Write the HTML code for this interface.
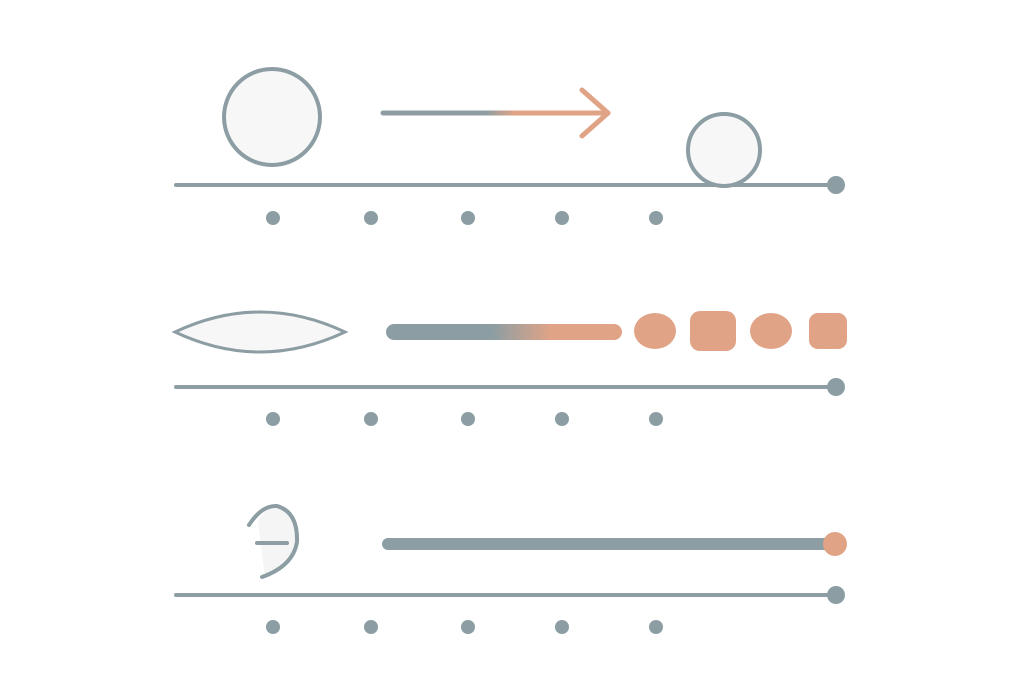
<!DOCTYPE html>
<html><head><meta charset="utf-8"><style>html,body{margin:0;padding:0;background:#fff}svg{display:block}</style></head>
<body>
<svg width="1024" height="683" viewBox="0 0 1024 683" xmlns="http://www.w3.org/2000/svg">
<defs>
<linearGradient id="g1" gradientUnits="userSpaceOnUse" x1="383" y1="0" x2="610" y2="0">
<stop offset="0" stop-color="#8c9ea3"/><stop offset="0.45" stop-color="#8c9ea3"/><stop offset="0.58" stop-color="#e0a386"/><stop offset="1" stop-color="#e0a386"/></linearGradient>
<linearGradient id="g2" gradientUnits="userSpaceOnUse" x1="386" y1="0" x2="622" y2="0">
<stop offset="0" stop-color="#8c9ea3"/><stop offset="0.45" stop-color="#8c9ea3"/><stop offset="0.7" stop-color="#e0a386"/><stop offset="1" stop-color="#e0a386"/></linearGradient>
</defs>
<g fill="none" stroke="#8c9ea3" stroke-linecap="round">
<!-- row 1 -->
<circle cx="272" cy="117" r="48" fill="#f7f7f7" stroke-width="4"/>
<line x1="176" y1="185" x2="836" y2="185" stroke-width="4"/>
<circle cx="724" cy="150" r="36" fill="#f7f7f7" stroke-width="4"/>
<line x1="383" y1="113" x2="608" y2="113" stroke="url(#g1)" stroke-width="5"/>
<polyline points="582,90 608,113 582,136" stroke="#e0a386" stroke-width="5" stroke-linejoin="round"/>
<!-- row 2 -->
<path d="M175,332 Q260,292 345,332 Q260,372 175,332 Z" fill="#f7f7f7" stroke-width="3"/>
<line x1="176" y1="387" x2="836" y2="387" stroke-width="4"/>
<line x1="394" y1="332" x2="614" y2="332" stroke="url(#g2)" stroke-width="16"/>
<!-- row 3 -->
<line x1="176" y1="595" x2="836" y2="595" stroke-width="4"/>
<path d="M258,521 Q268,505 280,507 Q300,515 296,545 Q290,568 265,577" fill="#f5f5f5" stroke="none"/>
<path d="M249,525 Q262,505 277,506 Q298,512 297,542 Q293,566 262,577" stroke-width="4"/>
<line x1="257" y1="543" x2="287" y2="543" stroke-width="4"/>
<line x1="388" y1="544" x2="828" y2="544" stroke-width="12"/>
</g>
<g fill="#8c9ea3">
<circle cx="836" cy="185" r="9"/>
<circle cx="836" cy="387" r="9"/>
<circle cx="836" cy="595" r="9"/>
<circle cx="273" cy="218" r="7"/><circle cx="371" cy="218" r="7"/><circle cx="468" cy="218" r="7"/><circle cx="562" cy="218" r="7"/><circle cx="656" cy="218" r="7"/>
<circle cx="273" cy="419" r="7"/><circle cx="371" cy="419" r="7"/><circle cx="468" cy="419" r="7"/><circle cx="562" cy="419" r="7"/><circle cx="656" cy="419" r="7"/>
<circle cx="273" cy="627" r="7"/><circle cx="371" cy="627" r="7"/><circle cx="468" cy="627" r="7"/><circle cx="562" cy="627" r="7"/><circle cx="656" cy="627" r="7"/>
</g>
<g fill="#e0a386">
<ellipse cx="655" cy="331" rx="21" ry="18"/>
<rect x="690" y="311" width="46" height="40" rx="10"/>
<ellipse cx="771" cy="331" rx="21" ry="18"/>
<rect x="809" y="313" width="38" height="36" rx="9"/>
<circle cx="835" cy="544" r="12"/>
</g>
</svg>
</body></html>
